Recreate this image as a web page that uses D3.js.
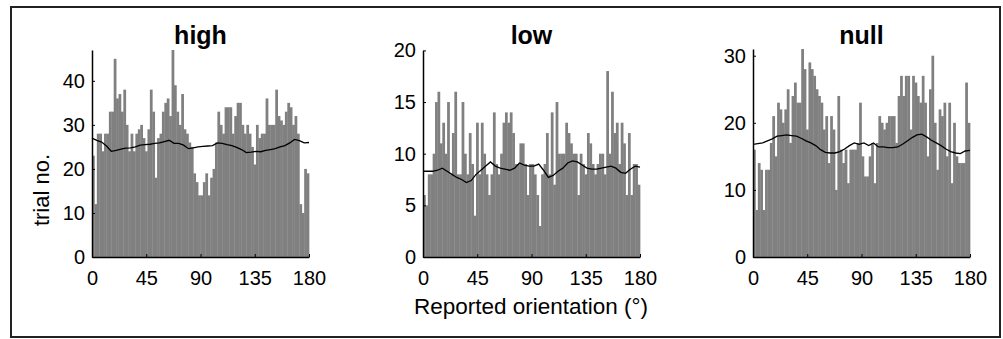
<!DOCTYPE html>
<html>
<head>
<meta charset="utf-8">
<script src="https://cdn.jsdelivr.net/npm/d3@7"></script>
<style>
  html, body { margin: 0; padding: 0; background: #fff; }
  svg { display: block; font-family: "Liberation Sans", Arial, Helvetica, sans-serif; }
</style>
</head>
<body>
<svg id="chart" width="1003" height="339"></svg>
<script>
// ---------- data ----------
const panelTitles = ["high", "low", "null"];
const binStarts = d3.range(0, 180, 2); // 2-degree bins
const xTicks = [0, 45, 90, 135, 180];
const highTicks = [0, 10, 20, 30, 40];
const lowTicks = [0, 5, 10, 15, 20];
const nullTicks = [0, 10, 20, 30];
const yMax = [47, 20, 31];

const highCounts = [
  23,12,28,28,24,28,28,33,33,45,
  36,37,33,38,30,24,28,24,28,29,
  30,27,24,29,38,33,18,27,28,33,
  35,36,32,47,39,33,30,37,29,28,
  26,25,19,17,14,14,17,19,14,18,
  20,26,33,30,28,34,34,34,28,32,
  35,35,30,28,30,28,25,21,30,27,
  28,28,36,30,30,30,38,32,31,30,
  33,35,34,30,32,28,12,10,20,19
];
const lowCounts = [
  6,5,8,8,10,15,16,11,13,10,
  15,8,12,16,8,8,15,10,8,12,
  9,4,13,8,13,10,8,6,8,14,
  9,8,10,13,14,13,14,12,9,9,
  11,11,9,6,9,9,8,6,3,8,
  9,12,8,14,7,15,10,10,10,13,
  12,11,10,10,6,10,9,8,12,11,
  9,8,9,10,10,8,18,10,16,12,
  13,9,13,11,6,12,6,9,9,7
];
const nullCounts = [
  16,7,14,13,7,13,13,17,21,15,
  23,22,20,22,25,17,24,26,23,23,
  31,28,19,29,28,27,25,24,23,19,
  21,14,21,19,10,24,16,14,16,11,
  16,16,16,17,23,15,12,12,15,17,
  11,17,21,20,19,20,21,21,21,17,
  24,27,24,27,27,19,27,26,24,23,
  27,23,15,25,30,20,13,22,21,23,
  15,23,11,20,15,14,14,14,26,20
];

// smoothed (running-average) curve, sampled every 4 degrees
const lineDeg = d3.range(0, 181, 4);
const highLine = [27.0,26.5,26.1,25.2,24.0,24.2,24.5,24.7,24.8,25.0,25.4,25.5,25.6,25.8,25.9,26.2,26.5,25.8,25.8,25.4,24.6,24.8,25.0,25.1,25.2,25.3,25.9,25.8,25.5,25.3,24.9,24.4,23.7,23.8,24.0,23.9,24.2,24.4,24.6,25.0,25.3,25.9,26.7,26.4,25.9,26.0];
const lowLine = [8.3,8.3,8.3,8.4,8.6,8.3,8.0,7.7,7.5,7.2,7.4,8.0,8.4,8.8,9.2,8.8,8.6,8.5,8.4,8.6,9.1,8.9,8.8,8.8,9.0,8.4,7.7,7.9,8.3,8.6,9.1,9.3,9.2,8.9,8.6,8.5,8.5,8.6,8.7,8.8,8.6,8.2,8.1,8.5,8.8,8.7];
const nullLine = [16.8,16.9,17.0,17.3,17.6,18.0,18.1,18.2,18.1,18.0,17.7,17.3,17.0,16.6,16.0,15.6,15.5,15.5,15.7,16.1,16.6,17.0,16.8,17.0,16.6,17.0,16.4,16.4,16.3,16.3,16.4,16.8,17.3,17.8,18.2,18.3,17.9,17.4,17.0,16.6,16.1,15.7,15.5,15.4,15.8,15.9];

const xLabel = "Reported orientation (°)";
const yLabel = "trial no.";

// ---------- layout ----------
const svg = d3.select("#chart");
const panelLeft = [92, 423, 753];
const panelWidth = 217;
const baseY = 257;
const topY = [50, 50.4, 49];

svg.append("rect")
  .attr("x", 11).attr("y", 7).attr("width", 989).attr("height", 330)
  .attr("fill", "none").attr("stroke", "#222").attr("stroke-width", 2);

const panels = [
  {title: panelTitles[0], counts: highCounts, line: highLine, ticks: highTicks, ymax: yMax[0]},
  {title: panelTitles[1], counts: lowCounts, line: lowLine, ticks: lowTicks, ymax: yMax[1]},
  {title: panelTitles[2], counts: nullCounts, line: nullLine, ticks: nullTicks, ymax: yMax[2]}
];

panels.forEach((p, k) => {
  const x = d3.scaleLinear().domain([0, 180]).range([panelLeft[k], panelLeft[k] + panelWidth]);
  const y = d3.scaleLinear().domain([0, p.ymax]).range([baseY, topY[k]]);
  const g = svg.append("g");
  const bw = x(2) - x(0);

  g.selectAll("rect.bar").data(p.counts).enter().append("rect")
    .attr("class", "bar")
    .attr("x", (d, i) => x(binStarts[i]))
    .attr("width", bw + 0.35)
    .attr("y", d => y(d))
    .attr("height", d => y(0) - y(d))
    .attr("fill", "#808080");

  g.append("path")
    .datum(p.line)
    .attr("fill", "none")
    .attr("stroke", "#000")
    .attr("stroke-width", 1.3)
    .attr("d", d3.line().x((d, i) => x(lineDeg[i])).y(d => y(d)));

  const xAxis = g.append("g")
    .attr("transform", `translate(0,${baseY})`)
    .call(d3.axisBottom(x).tickValues(xTicks).tickSizeInner(-3).tickSizeOuter(0).tickPadding(14));
  const yAxis = g.append("g")
    .attr("transform", `translate(${panelLeft[k]},0)`)
    .call(d3.axisLeft(y).tickValues(p.ticks).tickSizeInner(-3).tickSizeOuter(0).tickPadding(7));

  [xAxis, yAxis].forEach(a => {
    a.select(".domain").attr("stroke", "#000").attr("stroke-width", 1.5);
    a.selectAll(".tick line").attr("stroke", "#000").attr("stroke-width", 1);
    a.selectAll(".tick text").attr("fill", "#000").style("font-size", "20px")
      .style("font-family", '"Liberation Sans", Arial, sans-serif');
  });

  svg.append("text")
    .attr("x", panelLeft[k] + panelWidth / 2)
    .attr("y", 44)
    .attr("text-anchor", "middle")
    .style("font-size", "25px")
    .style("font-weight", "bold")
    .text(p.title);
});

svg.append("text")
  .attr("x", 531).attr("y", 314)
  .attr("text-anchor", "middle")
  .style("font-size", "22.5px")
  .text(xLabel);

svg.append("text")
  .attr("transform", "translate(49,190) rotate(-90)")
  .attr("text-anchor", "middle")
  .style("font-size", "22px")
  .text(yLabel);
</script>
</body>
</html>
